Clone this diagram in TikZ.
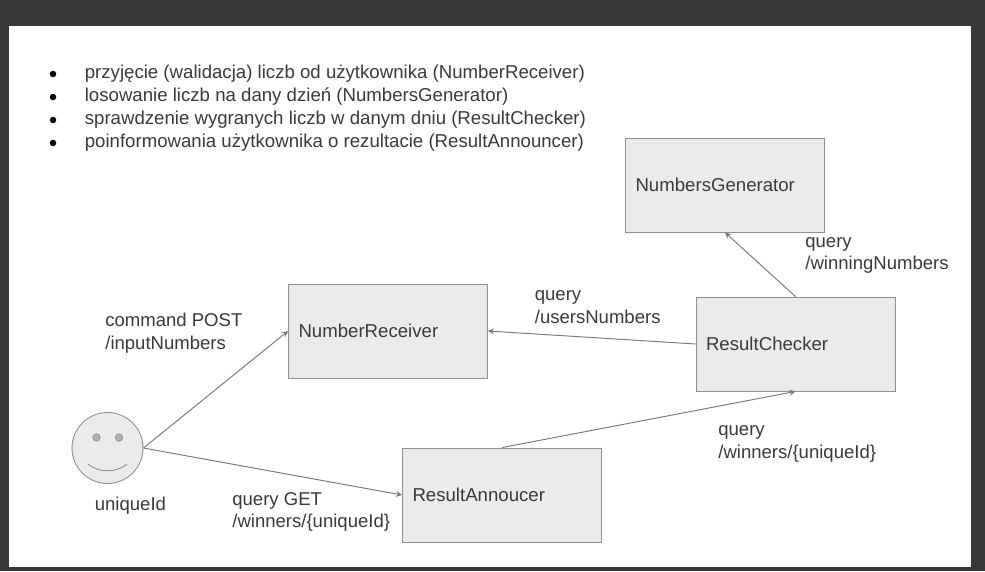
\documentclass[tikz,border=0pt]{standalone}
\usepackage{fontspec}
\setmainfont{Liberation Sans}
\usetikzlibrary{arrows}
\definecolor{darkbg}{HTML}{37383A}
\definecolor{boxfill}{HTML}{EBEBEB}
\definecolor{boxline}{HTML}{909090}
\definecolor{inktext}{HTML}{3A3A3A}
\tikzset{
  lbl/.style={anchor=west,align=left,inner sep=0pt,text=inktext,font=\fontsize{10.55}{13.0}\selectfont},
  listitem/.style={anchor=base west,inner sep=0pt,text=inktext,font=\fontsize{10.6}{12}\selectfont},
  listdot/.style={circle,fill=black,inner sep=0pt,minimum size=0.13cm},
  blockbox/.style={draw=boxline,fill=boxfill,line width=0.5pt,minimum height=1.88cm,text width=3.58cm,
    inner xsep=0.2cm,inner ysep=0pt,align=left,text=inktext,font=\fontsize{10.6}{12}\selectfont},
  link/.style={->,>=stealth,draw=boxline!85!black,line width=0.55pt}
}
\begin{document}
\begin{tikzpicture}

  % Page
  \fill [darkbg] (0,0) rectangle (19.7,11.42);
  \fill [white] (0.18,0.08) rectangle (19.42,10.9);

  % List
  \node [listdot] (D1) at (1.06,9.94) {};
  \node [listdot] (D2) at (1.06,9.48) {};
  \node [listdot] (D3) at (1.06,9.02) {};
  \node [listdot] (D4) at (1.06,8.56) {};
  \node [listitem] (L1) at (1.69,9.85) {przyjęcie (walidacja) liczb od użytkownika (NumberReceiver)};
  \node [listitem] (L2) at (1.69,9.39) {losowanie liczb na dany dzień (NumbersGenerator)};
  \node [listitem] (L3) at (1.69,8.93) {sprawdzenie wygranych liczb w danym dniu (ResultChecker)};
  \node [listitem] (L4) at (1.69,8.47) {poinformowania użytkownika o rezultacie (ResultAnnouncer)};

  % Blocks
  \node [blockbox] (NR) at (7.76,4.8) {NumberReceiver};
  \node [blockbox] (NG) at (14.5,7.72) {NumbersGenerator};
  \node [blockbox] (RC) at (15.91,4.54) {ResultChecker};
  \node [blockbox] (RA) at (10.04,1.52) {ResultAnnoucer};

  % User
  \node [circle,draw=boxline,fill=boxfill,line width=0.5pt,minimum size=1.42cm,inner sep=0pt] (U) at (2.15,2.46) {};
  \node [circle,draw=boxline,fill=boxline!70,minimum size=0.15cm,inner sep=0pt] (E1) at (1.93,2.67) {};
  \node [circle,draw=boxline,fill=boxline!70,minimum size=0.15cm,inner sep=0pt] (E2) at (2.38,2.67) {};
  \coordinate (M1) at (1.76,2.14);
  \coordinate (M2) at (2.54,2.14);
  \draw [boxline,line width=0.5pt] (M1) .. controls (1.97,1.96) and (2.33,1.96) .. (M2);
  \node [lbl] (UL) at (1.89,1.3) {uniqueId};

  % Labels
  \node [lbl] (T1) at (2.1,4.76) {command POST\\/inputNumbers};
  \node [lbl] (T2) at (10.69,5.27) {query\\/usersNumbers};
  \node [lbl] (T3) at (16.1,6.31) {query\\/winningNumbers};
  \node [lbl] (T4) at (14.36,2.54) {query\\/winners/\{uniqueId\}};
  \node [lbl] (T5) at (4.64,1.18) {query GET\\/winners/\{uniqueId\}};

  \draw [link] (U.east) to (NR.west);
  \draw [link] (U.east) to (RA.west);
  \draw [link] (RA.north) to (RC.south);
  \draw [link] (RC.west) to (NR.east);
  \draw [link] (RC.north) to (NG.south);

\end{tikzpicture}
\end{document}
